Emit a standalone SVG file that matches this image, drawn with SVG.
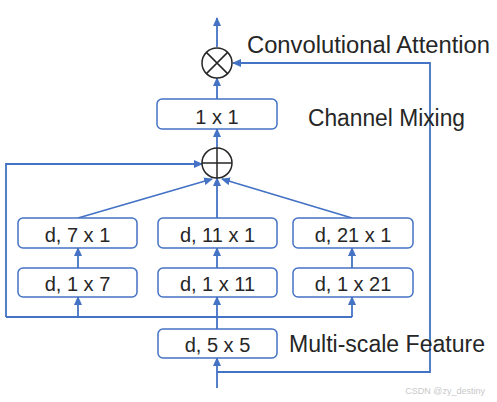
<svg xmlns="http://www.w3.org/2000/svg" width="497" height="402" viewBox="0 0 497 402">
<style>
.box{fill:#fff;stroke:#4472C4;stroke-width:1.5}
.lbl{font-family:"Liberation Sans",Arial,sans-serif;font-size:20px;fill:#262626;text-anchor:middle}
.note{font-family:"Liberation Sans",Arial,sans-serif;font-size:23px;fill:#262626}
.op{fill:#fff;stroke:#262626;stroke-width:1.5}
.c{fill:none;stroke:#4472C4;stroke-width:1.8}
.ca{fill:none;stroke:#4472C4;stroke-width:1.8;marker-end:url(#ah)}
</style>
<defs>
<marker id="ah" markerUnits="userSpaceOnUse" markerWidth="9" markerHeight="8" refX="8" refY="4" orient="auto">
<path d="M0,0 L9,4 L0,8 Z" fill="#4472C4"/>
</marker>
</defs>
<rect width="497" height="402" fill="#fff"/>
<g id="connectors">
<path class="ca" d="M217,388 V358"/>
<path class="ca" d="M217,372 H430 V63 H233"/>
<path class="ca" d="M217,329 V297"/>
<path class="c" d="M6,317 H352"/>
<path class="ca" d="M78,317 V297"/>
<path class="ca" d="M352,317 V297"/>
<path class="ca" d="M78,268 V248"/>
<path class="ca" d="M217,268 V248"/>
<path class="ca" d="M352,268 V248"/>
<path class="ca" d="M6,317 V164 H202"/>
<path class="ca" d="M78,218 L212,179"/>
<path class="ca" d="M217,218 V178"/>
<path class="ca" d="M352,218 L222,179"/>
<path class="ca" d="M217,148 V129"/>
<path class="ca" d="M217,99 V78"/>
<path class="ca" d="M217,47 V18"/>
</g>
<g id="node-mult">
<circle class="op" cx="217" cy="63" r="15"/>
<path d="M206.4,52.4 L227.6,73.6 M227.6,52.4 L206.4,73.6" stroke="#262626" stroke-width="1.5"/>
</g>
<g id="node-1x1">
<rect class="box" x="157" y="99" width="120" height="30" rx="5"/>
<text class="lbl" x="217" y="124">1 x 1</text>
</g>
<g id="node-add">
<circle class="op" cx="217" cy="163" r="15"/>
<path d="M202,163 H232 M217,148 V178" stroke="#262626" stroke-width="1.5"/>
</g>
<g id="node-7x1">
<rect class="box" x="18" y="218" width="119" height="30" rx="5"/>
<text class="lbl" x="77.5" y="242">d, 7 x 1</text>
</g>
<g id="node-11x1">
<rect class="box" x="158" y="218" width="119" height="30" rx="5"/>
<text class="lbl" x="217.5" y="242">d, 11 x 1</text>
</g>
<g id="node-21x1">
<rect class="box" x="293" y="218" width="120" height="30" rx="5"/>
<text class="lbl" x="353" y="242">d, 21 x 1</text>
</g>
<g id="node-1x7">
<rect class="box" x="18" y="268" width="119" height="29" rx="5"/>
<text class="lbl" x="77.5" y="291">d, 1 x 7</text>
</g>
<g id="node-1x11">
<rect class="box" x="158" y="268" width="119" height="29" rx="5"/>
<text class="lbl" x="217.5" y="291">d, 1 x 11</text>
</g>
<g id="node-1x21">
<rect class="box" x="293" y="268" width="120" height="29" rx="5"/>
<text class="lbl" x="353" y="291">d, 1 x 21</text>
</g>
<g id="node-5x5">
<rect class="box" x="158" y="329" width="119" height="29" rx="5"/>
<text class="lbl" x="217.5" y="352">d, 5 x 5</text>
</g>
<text class="note" x="247" y="53" textLength="243" lengthAdjust="spacingAndGlyphs">Convolutional Attention</text>
<text class="note" x="308" y="126" textLength="157" lengthAdjust="spacingAndGlyphs">Channel Mixing</text>
<text class="note" x="289" y="352" textLength="196" lengthAdjust="spacingAndGlyphs">Multi-scale Feature</text>
<text x="485" y="394" font-family="Liberation Sans,Arial,sans-serif" font-size="9" fill="#c8c8c8" text-anchor="end">CSDN @zy_destiny</text>
</svg>
